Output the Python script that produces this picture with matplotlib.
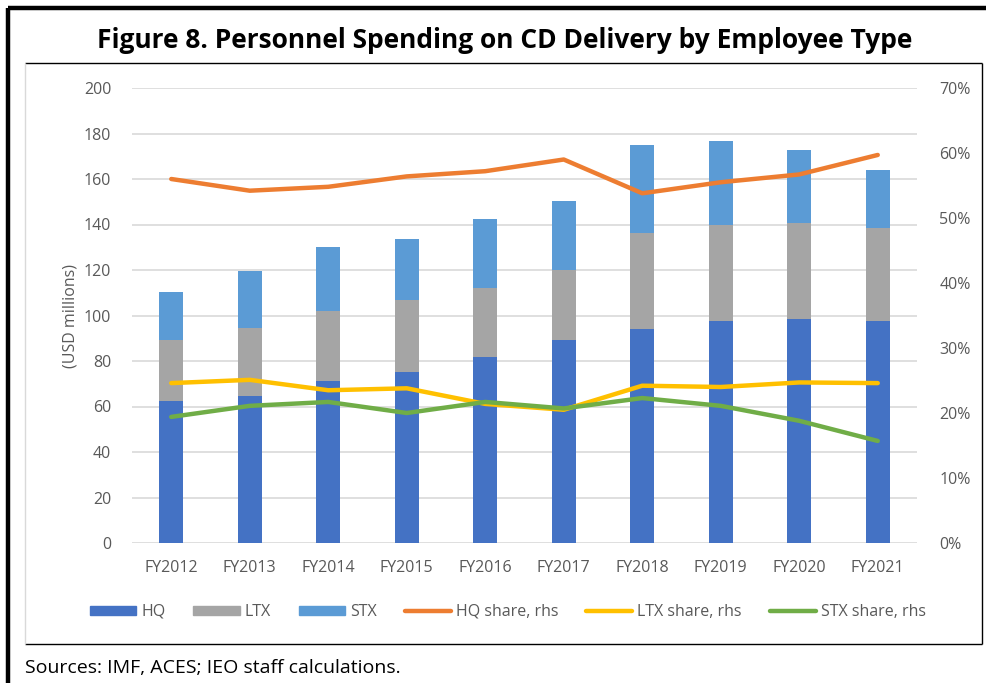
import matplotlib
matplotlib.use("Agg")
from matplotlib import pyplot as plt
from matplotlib.lines import Line2D
from matplotlib.patches import Patch
from matplotlib.ticker import FuncFormatter
import numpy as np

plt.rcParams["font.family"] = ["Open Sans", "DejaVu Sans"]

years = ["FY2012", "FY2013", "FY2014", "FY2015", "FY2016",
         "FY2017", "FY2018", "FY2019", "FY2020", "FY2021"]

# stacked bar tops (USD millions)
hq = [62.4, 64.7, 71.4, 75.2, 81.6, 89.2, 93.9, 97.7, 98.3, 97.7]
ltx_top = [89.2, 94.4, 102.0, 106.8, 111.9, 120.0, 136.4, 139.8, 140.7, 138.3]
stx_top = [110.5, 119.4, 130.2, 133.6, 142.6, 150.5, 175.1, 176.6, 172.7, 163.8]

# shares, percent (rhs)
hq_share = [56.0, 54.2, 54.8, 56.4, 57.2, 59.0, 53.8, 55.5, 56.7, 59.7]
ltx_share = [24.6, 25.1, 23.5, 23.8, 21.4, 20.5, 24.2, 24.0, 24.7, 24.6]
stx_share = [19.4, 21.1, 21.7, 20.0, 21.7, 20.7, 22.3, 21.1, 18.8, 15.7]

c_hq, c_ltx, c_stx = "#4472C4", "#A5A5A5", "#5B9BD5"
c_hqs, c_ltxs, c_stxs = "#ED7D31", "#FFC000", "#70AD47"
tick_col = "#595959"

fig = plt.figure(figsize=(9.87, 6.83), dpi=100)
W, H = 987, 683


def fx(px):
    return px / W


def fy(py):
    return 1 - py / H


ax = fig.add_axes([fx(132), fy(543), fx(917) - fx(132), fy(88) - fy(543)])
ax2 = ax.twinx()

x = np.arange(len(years))
hq_a = np.array(hq)
ltx_a = np.array(ltx_top) - hq_a
stx_a = np.array(stx_top) - np.array(ltx_top)
bw = 0.31
ax.bar(x, hq_a, bw, color=c_hq, zorder=2)
ax.bar(x, ltx_a, bw, bottom=hq_a, color=c_ltx, zorder=2)
ax.bar(x, stx_a, bw, bottom=hq_a + ltx_a, color=c_stx, zorder=2)

lw = 3.2
ax2.plot(x, hq_share, color=c_hqs, lw=lw, solid_capstyle="round")
ax2.plot(x, ltx_share, color=c_ltxs, lw=lw, solid_capstyle="round")
ax2.plot(x, stx_share, color=c_stxs, lw=lw, solid_capstyle="round")

ax.set_xlim(-0.5, len(years) - 0.5)
ax.set_ylim(0, 200)
ax.set_yticks(np.arange(0, 201, 20))
ax2.set_ylim(0, 70)
ax2.set_yticks(np.arange(0, 71, 10))
ax2.yaxis.set_major_formatter(FuncFormatter(lambda v, p: f"{v:.0f}%"))
ax.set_xticks(x)
ax.set_xticklabels(years)

ax.grid(axis="y", color="#D9D9D9", lw=1.2, zorder=0)
ax.set_axisbelow(True)
for a in (ax, ax2):
    for s in a.spines.values():
        s.set_visible(False)
    a.tick_params(length=0, labelsize=11.5, labelcolor=tick_col)
ax.tick_params(axis="y", pad=15)
ax.tick_params(axis="x", pad=12)
ax2.tick_params(axis="y", pad=16)
ax.set_ylabel("(USD millions)", fontsize=11.5, color=tick_col, labelpad=4)

handles = [
    Patch(color=c_hq), Patch(color=c_ltx), Patch(color=c_stx),
    Line2D([], [], color=c_hqs, lw=lw, solid_capstyle="round"),
    Line2D([], [], color=c_ltxs, lw=lw, solid_capstyle="round"),
    Line2D([], [], color=c_stxs, lw=lw, solid_capstyle="round"),
]
labels = ["HQ", "LTX", "STX", "HQ share, rhs", "LTX share, rhs", "STX share, rhs"]
fig.legend(handles, labels, ncol=6, loc="center", bbox_to_anchor=(fx(508), fy(612)),
           frameon=False, fontsize=11.5, handlelength=2.9, handleheight=0.55,
           handletextpad=0.3, columnspacing=1.75, labelcolor=tick_col)

fig.text(fx(505), fy(40), "Figure 8. Personnel Spending on CD Delivery by Employee Type",
         ha="center", va="center", fontsize=19, fontweight="bold", color="black")
fig.text(fx(25), fy(668), "Sources: IMF, ACES; IEO staff calculations.",
         ha="left", va="center", fontsize=14, color="black")

# outer frame and chart box
def fline(x0, y0, x1, y1, lw, col):
    fig.add_artist(Line2D([fx(x0), fx(x1)], [fy(y0), fy(y1)], color=col, lw=lw,
                          solid_capstyle="butt"))

fline(8, 8, 987, 8, 3.2, "black")
fline(8, 8, 8, 683, 3.2, "black")
fline(25, 63, 982, 63, 1.0, "black")
fline(25, 644, 982, 644, 1.0, "black")
fline(982, 63, 982, 644, 1.0, "black")
fline(25, 63, 25, 644, 1.0, "#D9D9D9")

fig.savefig("out.png", dpi=100)
